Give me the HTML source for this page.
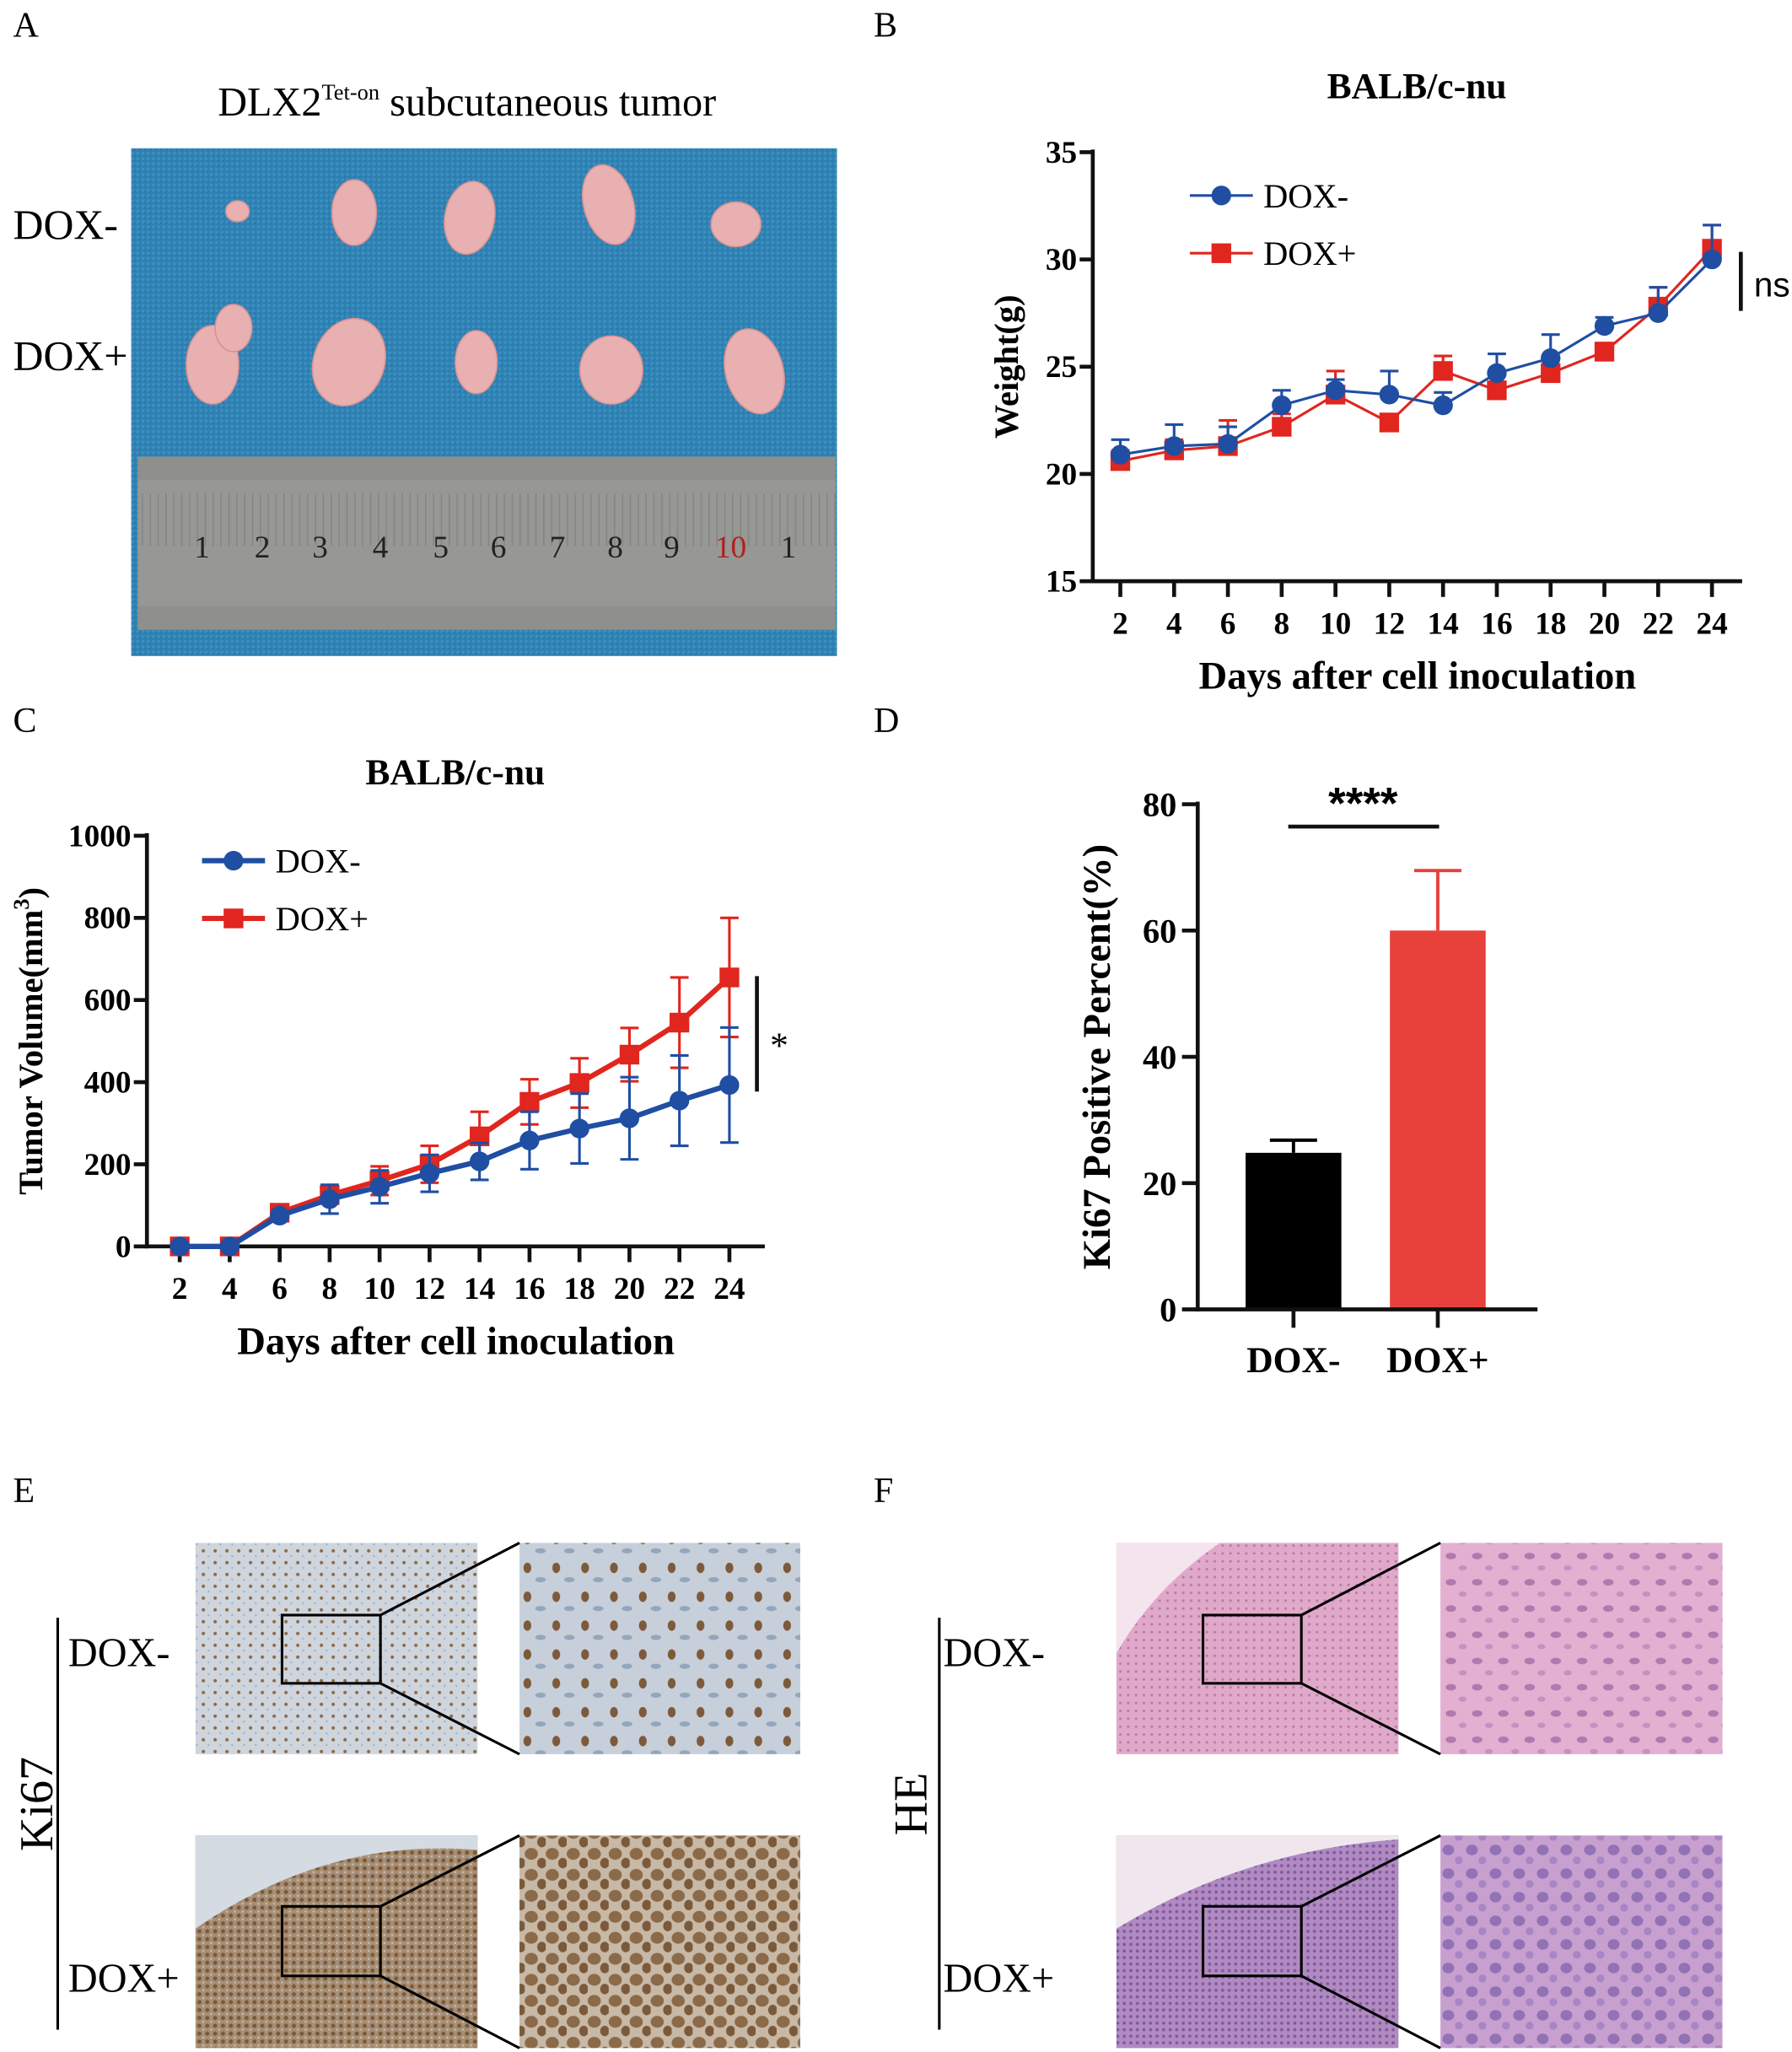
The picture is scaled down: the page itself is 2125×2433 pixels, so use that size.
<!DOCTYPE html>
<html><head><meta charset="utf-8"><style>
html,body{margin:0;padding:0;background:#fff;}
svg{display:block;}
text{font-family:"Liberation Serif",serif;}
</style></head><body>
<svg id="fig" width="2125" height="2433" viewBox="0 0 1366 1564" xmlns="http://www.w3.org/2000/svg">
<defs>
<pattern id="bluetex" width="4" height="4" patternUnits="userSpaceOnUse"><rect width="4" height="4" fill="#2f82b4"/><rect width="2" height="2" fill="#3d90c0"/><rect x="2" y="2" width="1" height="1" fill="#266f9e"/></pattern>
<pattern id="rulertex" width="6" height="132" patternUnits="userSpaceOnUse"><rect width="6" height="132" fill="#8f8f8c"/><rect x="0" y="0" width="1" height="20" fill="#555"/><rect x="0" y="112" width="1" height="20" fill="#555"/></pattern>
<pattern id="ki67a" width="9" height="9" patternUnits="userSpaceOnUse"><rect width="9" height="9" fill="#cfd5dc"/><circle cx="2" cy="3" r="1.3" fill="#8a6a4a"/><circle cx="6" cy="7" r="0.8" fill="#a5b4c6"/></pattern>
<pattern id="ki67b" width="6" height="6" patternUnits="userSpaceOnUse"><rect width="6" height="6" fill="#a88e72"/><circle cx="2" cy="2" r="1.6" fill="#7a5a3c"/><circle cx="5" cy="5" r="0.8" fill="#b8c4d0"/></pattern>
<pattern id="ki67az" width="22" height="22" patternUnits="userSpaceOnUse"><rect width="22" height="22" fill="#c7d0da"/><ellipse cx="6" cy="7" rx="3" ry="4" fill="#7d5a3a"/><ellipse cx="16" cy="16" rx="4" ry="2" fill="#93a6bd"/></pattern>
<pattern id="ki67bz" width="16" height="16" patternUnits="userSpaceOnUse"><rect width="16" height="16" fill="#c8b8a6"/><ellipse cx="5" cy="5" rx="5" ry="4.5" fill="#8a6a48"/><ellipse cx="13" cy="12" rx="3.5" ry="4" fill="#7a5a3a"/></pattern>
<pattern id="hea" width="6" height="6" patternUnits="userSpaceOnUse"><rect width="6" height="6" fill="#e0a9c9"/><circle cx="2" cy="2" r="1" fill="#b97aa8"/></pattern>
<pattern id="heb" width="5" height="5" patternUnits="userSpaceOnUse"><rect width="5" height="5" fill="#b08ac0"/><circle cx="2" cy="2" r="1.2" fill="#7f5aa0"/></pattern>
<pattern id="heaz" width="20" height="20" patternUnits="userSpaceOnUse"><rect width="20" height="20" fill="#e3b0d2"/><ellipse cx="6" cy="6" rx="4" ry="2.5" fill="#b07aae"/><ellipse cx="15" cy="15" rx="3" ry="2" fill="#c690c0"/></pattern>
<pattern id="hebz" width="18" height="18" patternUnits="userSpaceOnUse"><rect width="18" height="18" fill="#c8a0d0"/><ellipse cx="6" cy="6" rx="4.5" ry="4" fill="#9272b5"/><ellipse cx="14" cy="14" rx="3" ry="3" fill="#a885c3"/></pattern>
</defs>

<!-- panel letters -->
<text x="10" y="28" font-size="27">A</text>
<text x="666" y="28" font-size="27">B</text>
<text x="10" y="558" font-size="27">C</text>
<text x="666" y="558" font-size="27">D</text>
<text x="10" y="1145" font-size="27">E</text>
<text x="666" y="1145" font-size="27">F</text>

<!-- Panel A -->
<g>
<text x="166" y="88" font-size="31">DLX2<tspan font-size="17" dy="-12">Tet-on</tspan><tspan dy="12"> subcutaneous tumor</tspan></text>
<text x="10" y="182" font-size="32">DOX-</text>
<text x="10" y="282" font-size="32">DOX+</text>
<rect x="100" y="113" width="538" height="387" fill="url(#bluetex)"/>
<rect x="105" y="348" width="532" height="132" fill="url(#rulertex)"/>
<rect x="105" y="366" width="532" height="96" fill="#9a9a96" opacity="0.7"/>
<g style="font-family:'Liberation Sans',sans-serif" font-size="24" fill="#222">
<text x="148" y="425">1</text><text x="194" y="425">2</text><text x="238" y="425">3</text><text x="284" y="425">4</text><text x="330" y="425">5</text><text x="374" y="425">6</text><text x="419" y="425">7</text><text x="463" y="425">8</text><text x="506" y="425">9</text><text x="545" y="425" fill="#b02020">10</text><text x="595" y="425">1</text>
</g>
<g fill="#e8b0b0" stroke="#d89090" stroke-width="1">
<ellipse cx="181" cy="161" rx="9" ry="8"/>
<ellipse cx="270" cy="162" rx="17" ry="25"/>
<ellipse cx="358" cy="166" rx="19" ry="28" transform="rotate(10 358 166)"/>
<ellipse cx="464" cy="156" rx="19" ry="31" transform="rotate(-15 464 156)"/>
<ellipse cx="561" cy="171" rx="19" ry="17"/>
<ellipse cx="162" cy="278" rx="20" ry="30"/>
<ellipse cx="178" cy="250" rx="14" ry="18"/>
<ellipse cx="266" cy="276" rx="27" ry="34" transform="rotate(20 266 276)"/>
<ellipse cx="363" cy="276" rx="16" ry="24"/>
<ellipse cx="466" cy="282" rx="24" ry="26"/>
<ellipse cx="575" cy="283" rx="22" ry="33" transform="rotate(-15 575 283)"/>
</g>
</g>

<!-- Panel B -->
<g id="panelB"></g>
<!-- Panel C -->
<g id="panelC"></g>
<!-- Panel D -->
<g id="panelD"></g>

<!-- Panel E -->
<g>
<text transform="translate(40,1375) rotate(-90)" font-size="36" text-anchor="middle">Ki67</text>
<line x1="44" y1="1233" x2="44" y2="1547" stroke="#000" stroke-width="2"/>
<text x="52" y="1270" font-size="31">DOX-</text>
<text x="52" y="1518" font-size="31">DOX+</text>
<rect x="149" y="1176" width="215" height="161" fill="url(#ki67a)"/>
<rect x="396" y="1176" width="214" height="161" fill="url(#ki67az)"/>
<rect x="149" y="1399" width="215" height="162" fill="url(#ki67b)"/>
<path d="M149 1399 L364 1399 L364 1410 Q250 1400 149 1470 Z" fill="#d5dbe2"/>
<rect x="396" y="1399" width="214" height="162" fill="url(#ki67bz)"/>
<g fill="none" stroke="#000" stroke-width="2">
<rect x="215" y="1231" width="75" height="52"/><line x1="290" y1="1231" x2="396" y2="1176"/><line x1="290" y1="1283" x2="396" y2="1337"/>
<rect x="215" y="1453" width="75" height="53"/><line x1="290" y1="1453" x2="396" y2="1399"/><line x1="290" y1="1506" x2="396" y2="1561"/>
</g>
</g>

<!-- Panel F -->
<g>
<text transform="translate(706,1375) rotate(-90)" font-size="36" text-anchor="middle">HE</text>
<line x1="716" y1="1233" x2="716" y2="1547" stroke="#000" stroke-width="2"/>
<text x="719" y="1270" font-size="31">DOX-</text>
<text x="719" y="1518" font-size="31">DOX+</text>
<rect x="851" y="1176" width="215" height="161" fill="url(#hea)"/>
<path d="M851 1176 L930 1176 Q880 1210 851 1260 Z" fill="#f3e4ee"/>
<rect x="1098" y="1176" width="215" height="161" fill="url(#heaz)"/>
<rect x="851" y="1399" width="215" height="162" fill="url(#heb)"/>
<path d="M851 1399 L1066 1399 L1066 1402 Q950 1410 851 1470 Z" fill="#efe6ee"/>
<rect x="1098" y="1399" width="215" height="162" fill="url(#hebz)"/>
<g fill="none" stroke="#000" stroke-width="2">
<rect x="917" y="1231" width="75" height="52"/><line x1="992" y1="1231" x2="1098" y2="1176"/><line x1="992" y1="1283" x2="1098" y2="1337"/>
<rect x="917" y="1453" width="75" height="53"/><line x1="992" y1="1453" x2="1098" y2="1399"/><line x1="992" y1="1506" x2="1098" y2="1561"/>
</g>
</g>
</svg>

<script>
// Data
const days = [2,4,6,8,10,12,14,16,18,20,22,24];
const weightMinus = [20.9,21.3,21.4,23.2,23.9,23.7,23.2,24.7,25.4,26.9,27.5,30.0];
const weightMinusErr = [0.7,1.0,0.8,0.7,0.5,1.1,0.6,0.9,1.1,0.4,1.2,1.6];
const weightPlus = [20.6,21.1,21.3,22.2,23.7,22.4,24.8,23.9,24.7,25.7,27.8,30.5];
const weightPlusErr = [0.5,0.5,1.2,0.6,1.1,0.0,0.7,0.0,0.0,0.4,0.9,1.1];
const weightTicks = [15,20,25,30,35];
const volMinus = [0,0,75,115,145,178,207,258,287,312,355,393];
const volMinusErr = [0,0,0,35,40,45,45,70,85,100,110,140];
const volPlus = [0,0,82,125,160,200,268,352,398,467,545,655];
const volPlusErr = [0,0,0,0,35,45,60,55,60,65,110,145];
const volTicks = [0,200,400,600,800,1000];
const barGroups = ['DOX-','DOX+'];
const barValues = [24.8,60.0];
const barErr = [2.0,9.5];
const barTicks = [0,20,40,60,80];

const NS='http://www.w3.org/2000/svg';
function mk(parent,tag,attrs,txt){const e=document.createElementNS(NS,tag);for(const k in attrs)e.setAttribute(k,attrs[k]);if(txt!==undefined)e.textContent=txt;parent.appendChild(e);return e;}

function lineChart(g,o){
  const sx=d=>o.x0+(d-days[0])*(o.x1-o.x0)/(days[days.length-1]-days[0]);
  const sy=v=>o.y0-(v-o.vmin)*(o.y0-o.y1)/(o.vmax-o.vmin);
  mk(g,'text',{x:o.titleX,y:o.titleY,'font-size':28,'font-weight':'bold','text-anchor':'middle'},'BALB/c-nu');
  mk(g,'line',{x1:o.ax,y1:o.y1-2,x2:o.ax,y2:o.y0+1.5,stroke:'#111','stroke-width':3});
  mk(g,'line',{x1:o.ax-1.5,y1:o.y0,x2:o.axEnd,y2:o.y0,stroke:'#111','stroke-width':3});
  o.ticks.forEach(t=>{
    mk(g,'line',{x1:o.ax-10,y1:sy(t),x2:o.ax,y2:sy(t),stroke:'#111','stroke-width':3});
    const tl=mk(g,'text',{x:o.ax-12,y:sy(t)+8,'font-size':24,'font-weight':'bold','text-anchor':'end'},t);
    
    
  });
  days.forEach(d=>{
    mk(g,'line',{x1:sx(d),y1:o.y0,x2:sx(d),y2:o.y0+12,stroke:'#111','stroke-width':3});
    const tl=mk(g,'text',{x:sx(d),y:o.y0+40,'font-size':24,'font-weight':'bold','text-anchor':'middle'},d);
    
    
  });
  mk(g,'text',{x:(o.ax+o.axEnd)/2,y:o.y0+82,'font-size':30,'font-weight':'bold','text-anchor':'middle'},'Days after cell inoculation');
  const yt=mk(g,'text',{transform:`translate(${o.ytX},${(o.y0+o.y1)/2}) rotate(-90)`,'font-size':26,'font-weight':'bold','text-anchor':'middle'});
  yt.innerHTML=o.yTitle;
  
  
  const series=[{v:o.plus,e:o.plusErr,c:'#e0261f',sq:true,name:'dox-plus'},{v:o.minus,e:o.minusErr,c:'#1f4ea3',sq:false,name:'dox-minus'}];
  series.forEach(s=>{
    const sg=mk(g,'g',{});
    
    
    days.forEach((d,i)=>{ if(s.e[i]>0){
      mk(sg,'line',{x1:sx(d),y1:sy(s.v[i]),x2:sx(d),y2:sy(s.v[i]+s.e[i]),stroke:s.c,'stroke-width':2});
      mk(sg,'line',{x1:sx(d)-7,y1:sy(s.v[i]+s.e[i]),x2:sx(d)+7,y2:sy(s.v[i]+s.e[i]),stroke:s.c,'stroke-width':2});
      if(o.twoSided){
        mk(sg,'line',{x1:sx(d),y1:sy(s.v[i]),x2:sx(d),y2:sy(s.v[i]-s.e[i]),stroke:s.c,'stroke-width':2});
        mk(sg,'line',{x1:sx(d)-7,y1:sy(s.v[i]-s.e[i]),x2:sx(d)+7,y2:sy(s.v[i]-s.e[i]),stroke:s.c,'stroke-width':2});
      }}});
    mk(sg,'polyline',{points:days.map((d,i)=>sx(d)+','+sy(s.v[i])).join(' '),fill:'none',stroke:s.c,'stroke-width':o.lw});
    days.forEach((d,i)=>{
      let m;
      if(s.sq) m=mk(sg,'rect',{x:sx(d)-7.5,y:sy(s.v[i])-7.5,width:15,height:15,fill:s.c});
      else m=mk(sg,'circle',{cx:sx(d),cy:sy(s.v[i]),r:7.5,fill:s.c});
      
      
    });
  });
  // legend
  const lg=mk(g,'g',{});
  
  
  [[o.legY,'#1f4ea3',false,'DOX-'],[o.legY+44,'#e0261f',true,'DOX+']].forEach(l=>{
    mk(lg,'line',{x1:o.legX,y1:l[0],x2:o.legX+48,y2:l[0],stroke:l[1],'stroke-width':o.lw});
    if(l[2]) mk(lg,'rect',{x:o.legX+16.5,y:l[0]-7.5,width:15,height:15,fill:l[1]});
    else mk(lg,'circle',{cx:o.legX+24,cy:l[0],r:7.5,fill:l[1]});
    mk(lg,'text',{x:o.legX+56,y:l[0]+9,'font-size':26},l[3]);
  });
  mk(g,'line',{x1:o.sigX,y1:o.sigY1,x2:o.sigX,y2:o.sigY2,stroke:'#111','stroke-width':3});
  mk(g,'text',{x:o.sigX+10,y:o.sigTY,'font-size':o.sigFs,style:'font-family:'+o.sigFont},o.sig);
}

lineChart(document.getElementById('panelB'),{x0:854,x1:1305,ax:833,axEnd:1328,y0:443,y1:116,vmin:15,vmax:35,ticks:weightTicks,
  minus:weightMinus,minusErr:weightMinusErr,plus:weightPlus,plusErr:weightPlusErr,lw:2,twoSided:false,
  titleX:1080,titleY:75,ytX:776,yTitle:'Weight(g)',legX:907,legY:149,sigX:1327,sigY1:192,sigY2:237,sigTY:226,sig:'ns',sigFs:26,sigFont:"'Liberation Sans',sans-serif"});
lineChart(document.getElementById('panelC'),{x0:137,x1:556,ax:112,axEnd:583,y0:950,y1:637,vmin:0,vmax:1000,ticks:volTicks,
  minus:volMinus,minusErr:volMinusErr,plus:volPlus,plusErr:volPlusErr,lw:4,twoSided:true,
  titleX:347,titleY:598,ytX:32,yTitle:'Tumor Volume(mm<tspan font-size="17" dy="-10">3</tspan><tspan dy="10">)</tspan>',legX:154,legY:656,sigX:577,sigY1:744,sigY2:832,sigTY:806,sig:'*',sigFs:28,sigFont:"'Liberation Serif',serif"});

// Panel D
(function(){
  const g=document.getElementById('panelD');
  const x0=913,xEnd=1172,y0=998,y1=613,vmax=80;
  const sy=v=>y0-v*(y0-y1)/vmax;
  const centers=[986,1096], colors=['#000','#e8413c'], bw=73;
  barGroups.forEach((n,i)=>{
    const b=mk(g,'rect',{x:centers[i]-bw/2,y:sy(barValues[i]),width:bw,height:y0-sy(barValues[i]),fill:colors[i]});
    
    
    mk(g,'line',{x1:centers[i],y1:sy(barValues[i]),x2:centers[i],y2:sy(barValues[i]+barErr[i]),stroke:colors[i],'stroke-width':2.5});
    mk(g,'line',{x1:centers[i]-18,y1:sy(barValues[i]+barErr[i]),x2:centers[i]+18,y2:sy(barValues[i]+barErr[i]),stroke:colors[i],'stroke-width':2.5});
    mk(g,'line',{x1:centers[i],y1:y0,x2:centers[i],y2:y0+14,stroke:'#111','stroke-width':3});
    const tl=mk(g,'text',{x:centers[i],y:1046,'font-size':28,'font-weight':'bold','text-anchor':'middle'},n);
    
    
  });
  mk(g,'line',{x1:x0,y1:y1-2,x2:x0,y2:y0+1.5,stroke:'#111','stroke-width':3});
  mk(g,'line',{x1:x0-1.5,y1:y0,x2:xEnd,y2:y0,stroke:'#111','stroke-width':3});
  barTicks.forEach(t=>{
    mk(g,'line',{x1:x0-12,y1:sy(t),x2:x0,y2:sy(t),stroke:'#111','stroke-width':3});
    const tl=mk(g,'text',{x:x0-16,y:sy(t)+9,'font-size':26,'font-weight':'bold','text-anchor':'end'},t);
    
    
  });
  const yt=mk(g,'text',{transform:`translate(846,${(y0+y1)/2}) rotate(-90)`,'font-size':30,'font-weight':'bold','text-anchor':'middle'},'Ki67 Positive Percent(%)');
  
  
  mk(g,'line',{x1:982,y1:630,x2:1097,y2:630,stroke:'#111','stroke-width':3});
  mk(g,'text',{x:1039,y:624,'font-size':34,'font-weight':'bold','text-anchor':'middle',style:"font-family:'Liberation Sans',sans-serif"},'****');
})();
</script>
</body></html>
